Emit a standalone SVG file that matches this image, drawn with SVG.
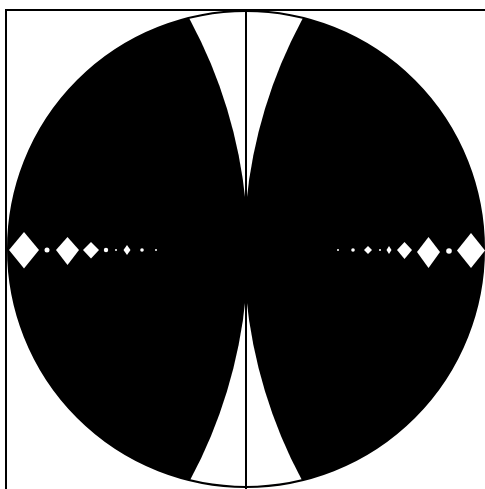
<svg xmlns="http://www.w3.org/2000/svg" width="485" height="489" viewBox="0 0 485 489">
  <style>
    .ink { fill: #000; }
    .gem { fill: #fff; }
    .rule { stroke: #000; stroke-width: 2; fill: none; }
  </style>
  <defs>
    <clipPath id="disc">
      <circle cx="246" cy="249" r="238"/>
    </clipPath>
  </defs>
  <rect x="0" y="0" width="485" height="489" fill="#fff"/>
  <g id="frame">
    <path class="rule" d="M6,489 V10 H485"/>
  </g>
  <g id="disc-body">
    <circle cx="246" cy="249" r="238" fill="#fff"/>
    <g clip-path="url(#disc)">
      <circle class="ink" cx="-238" cy="250" r="486"/>
      <circle class="ink" cx="730" cy="250" r="486"/>
    </g>
    <circle cx="246" cy="249" r="238" fill="none" stroke="#000" stroke-width="2"/>
  </g>
  <g id="gems-left">
    <polygon class="gem" points="24,232 39,250 24,268.5 9,250"/>
    <circle class="gem" cx="47" cy="250" r="2.5"/>
    <polygon class="gem" points="67.5,237 79,250 67.5,265 56,250"/>
    <polygon class="gem" points="91,242 99,250 91,258.5 83,250"/>
    <circle class="gem" cx="106" cy="250" r="2.2"/>
    <circle class="gem" cx="116" cy="250" r="1"/>
    <polygon class="gem" points="127,245 130.5,250 127,255 123.5,250"/>
    <circle class="gem" cx="142" cy="250" r="1.8"/>
    <circle class="gem" cx="156" cy="250" r="1"/>
  </g>
  <g id="gems-right">
    <circle class="gem" cx="338" cy="250" r="1"/>
    <circle class="gem" cx="353" cy="250" r="1.8"/>
    <polygon class="gem" points="368,246 372,250 368,254 364,250"/>
    <circle class="gem" cx="380" cy="250" r="1"/>
    <polygon class="gem" points="389,246 391.5,250 389,254 386.5,250"/>
    <polygon class="gem" points="404.5,242 412,250 404.5,259 397,250"/>
    <polygon class="gem" points="428.5,237 440,252 428.5,268 417,252"/>
    <circle class="gem" cx="449" cy="251" r="2.8"/>
    <polygon class="gem" points="471,233 485,250.5 471,268 457,250.5"/>
  </g>
  <g id="axis">
    <line class="rule" x1="246" y1="9" x2="246" y2="489"/>
  </g>
</svg>
